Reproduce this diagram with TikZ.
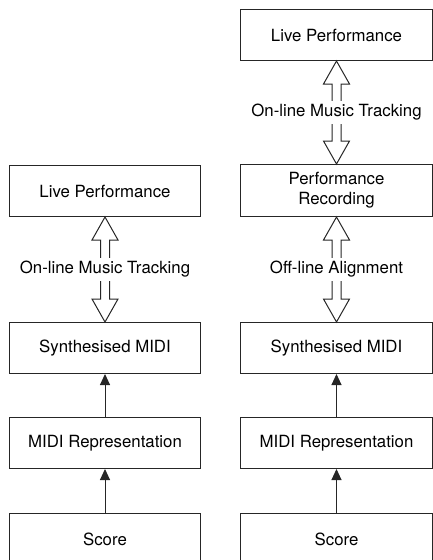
\documentclass[tikz,border=0pt]{standalone}
\usepackage{fontspec}
\setmainfont{TeX Gyre Heros}
\usetikzlibrary{arrows.meta,calc}
\tikzset{
  box/.style={draw=black!85, line width=1pt, minimum width=191.5pt, minimum height=51pt,
    anchor=north, align=center, inner sep=0pt, font=\fontsize{16.8}{20}\selectfont},
  lab/.style={fill=white, inner sep=3pt, font=\fontsize{16.8}{20}\selectfont},
  hollow/.style={draw=black!85, line width=1pt, fill=white, line join=miter},
  solidarrow/.style={draw=black!85, line width=1pt, -{Triangle[length=11pt,width=10pt]}}
}
\newcommand{\dblarrow}[4]{%
  \draw[hollow] let \p1=(#1.south), \p2=(#2.north) in
    (\x1,\y1) -- (\x1+13pt,\y1-23pt) -- (\x1+4.5pt,\y1-23pt) -- (\x1+4.5pt,\y2+23pt)
    -- (\x1+13pt,\y2+23pt) -- (\x1,\y2) -- (\x1-13pt,\y2+23pt) -- (\x1-4.5pt,\y2+23pt)
    -- (\x1-4.5pt,\y1-23pt) -- (\x1-13pt,\y1-23pt) -- cycle;
  \path (#1.south) -- (#2.north) node[midway, lab] (#3) {#4};}
\begin{document}
\begin{tikzpicture}[x=1pt, y=-1pt]
\useasboundingbox (0,0) rectangle (433,560);
\clip (0,0) rectangle (433,560);
% left column
\node[box] (lLive)  at (105,165) {Live Performance};
\node[box] (lSynth) at (105,322) {Synthesised MIDI};
\node[box] (lMidi)  at (105,417) {MIDI Representation};
\node[box] (lScore) at (105,513) {Score};
% right column
\node[box] (rLive)  at (336.5,9)   {Live Performance};
\node[box, minimum height=52pt] (rRec) at (336.5,164) {Performance\\Recording};
\node[box] (rSynth) at (336.5,322) {Synthesised MIDI};
\node[box] (rMidi)  at (336.5,417) {MIDI Representation};
\node[box] (rScore) at (336.5,513) {Score};
% hollow double arrows
\dblarrow{lLive}{lSynth}{lTrack}{On-line Music Tracking}
\dblarrow{rLive}{rRec}{rTrack}{On-line Music Tracking}
\dblarrow{rRec}{rSynth}{rAlign}{Off-line Alignment}
% solid arrows
\draw[solidarrow] (lScore.north) -- (lMidi.south);
\draw[solidarrow] (lMidi.north) -- (lSynth.south);
\draw[solidarrow] (rScore.north) -- (rMidi.south);
\draw[solidarrow] (rMidi.north) -- (rSynth.south);
\end{tikzpicture}
\end{document}
